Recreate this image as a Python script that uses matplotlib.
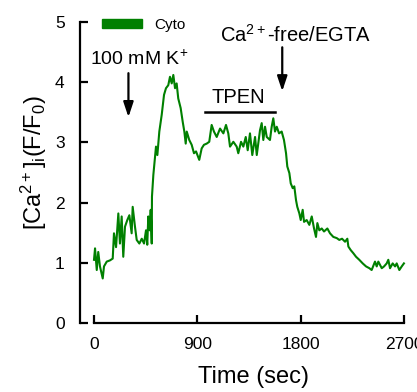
import matplotlib
matplotlib.use("Agg")
import matplotlib.pyplot as plt
from matplotlib.patches import Patch

plt.rcParams['font.family'] = ['Liberation Sans', 'DejaVu Sans']
plt.rcParams['mathtext.fontset'] = 'custom'
plt.rcParams['mathtext.rm'] = 'Liberation Sans'
plt.rcParams['mathtext.it'] = 'Liberation Sans:italic'

# cytosolic trace
time_s = [0, 9, 24, 37, 52, 76, 87, 111, 139, 163, 174, 192, 212, 226, 241, 255,
          270, 290, 308, 328, 337, 357, 372, 395, 416, 436, 453, 464, 473, 485,
          494, 503, 505, 517, 531, 540, 552, 569, 590, 610, 627, 647, 662, 677,
          691, 706, 720, 734, 755, 773, 787, 799, 808, 830, 851, 871, 889, 917,
          938, 958, 982, 1004, 1025, 1045, 1069, 1098, 1127, 1150, 1170, 1185,
          1214, 1243, 1257, 1281, 1301, 1322, 1339, 1359, 1379, 1403, 1418, 1446,
          1461, 1475, 1490, 1505, 1533, 1548, 1562, 1577, 1592, 1612, 1635, 1655,
          1673, 1684, 1702, 1714, 1731, 1745, 1760, 1771, 1789, 1801, 1818, 1830,
          1853, 1876, 1897, 1917, 1934, 1946, 1963, 1984, 2004, 2033, 2056, 2085,
          2115, 2137, 2161, 2187, 2207, 2216, 2237, 2259, 2283, 2311, 2341, 2370,
          2399, 2419, 2448, 2463, 2477, 2507, 2527, 2550, 2564, 2579, 2602, 2623,
          2637, 2660, 2681, 2700]
cyto = [1.05, 1.24, 0.88, 1.18, 0.94, 0.74, 0.94, 1.02, 1.04, 1.07, 1.49, 1.26,
        1.82, 1.32, 1.77, 1.10, 1.60, 1.71, 1.79, 1.49, 1.93, 1.60, 1.38, 1.32,
        1.40, 1.32, 1.54, 1.30, 1.77, 1.54, 1.88, 1.32, 2.10, 2.46, 2.74, 2.93,
        2.79, 3.18, 3.46, 3.79, 3.90, 3.95, 4.09, 3.98, 4.12, 3.90, 3.98, 3.73,
        3.57, 3.34, 3.18, 2.98, 3.18, 3.04, 2.96, 2.82, 2.85, 2.71, 2.90, 2.96,
        2.98, 3.01, 3.29, 3.18, 3.09, 3.23, 3.15, 3.29, 3.15, 2.93, 3.01, 2.93,
        2.82, 3.01, 2.93, 3.09, 2.87, 3.15, 2.79, 3.09, 2.79, 3.20, 3.32, 3.04,
        3.26, 3.09, 3.04, 3.26, 3.40, 3.18, 3.26, 3.15, 3.18, 3.04, 2.82, 2.60,
        2.49, 2.32, 2.24, 2.27, 2.04, 1.93, 1.82, 1.71, 1.88, 1.68, 1.71, 1.63,
        1.77, 1.57, 1.43, 1.66, 1.54, 1.57, 1.52, 1.57, 1.49, 1.43, 1.41, 1.38,
        1.40, 1.35, 1.40, 1.27, 1.21, 1.16, 1.10, 1.05, 0.99, 0.94, 0.91, 0.88,
        1.02, 0.94, 1.02, 0.91, 0.94, 0.99, 1.05, 0.91, 0.99, 0.94, 0.99, 0.88,
        0.94, 0.99]

xticks = [0, 900, 1800, 2700]
yticks = [0, 1, 2, 3, 4, 5]
kcl_time, egta_time = 300, 1640
tpen_start, tpen_end = 967, 1577

green = '#008000'
W, H = 417, 392
fig = plt.figure(figsize=(W / 100, H / 100), dpi=100)
ax = fig.add_axes([80 / W, (H - 323) / H, 330 / W, 301 / H])

ax.plot(time_s, cyto, color=green, lw=1.5)

ax.set_xlim(-122, 2753)
ax.set_ylim(0, 5)
ax.set_xticks(xticks)
ax.set_yticks(yticks)
for s in ['top', 'right']:
    ax.spines[s].set_visible(False)
ax.spines['bottom'].set_bounds(0, 2700)
ax.spines['left'].set_bounds(0, 5)
for s in ['bottom', 'left']:
    ax.spines[s].set_linewidth(1.6)
ax.tick_params(direction='in', length=5.5, width=1.6, labelsize=12.5)
ax.tick_params(axis='x', pad=10)
ax.tick_params(axis='y', pad=11)

# stimulus markers
arrow = dict(arrowstyle='-|>,head_width=0.3,head_length=0.9', color='black', lw=1.6,
             shrinkA=0, shrinkB=0)
ax.annotate('', xy=(kcl_time, 3.42), xytext=(kcl_time, 4.15), arrowprops=arrow)
ax.annotate('', xy=(egta_time, 3.85), xytext=(egta_time, 4.58), arrowprops=arrow)
ax.text(-35, 4.29, '100 mM K$^{+}$', fontsize=14, va='baseline')
ax.text(1098, 4.67, 'Ca$^{2+}$-free/EGTA', fontsize=14.5, va='baseline')
ax.text(1025, 3.65, 'TPEN', fontsize=14.5, va='baseline')
ax.plot([tpen_start, tpen_end], [3.51, 3.51], color='black', lw=1.8)

ax.legend(handles=[Patch(color=green, label='Cyto')], loc='upper left',
          bbox_to_anchor=(102 / W, (H - 18) / H), bbox_transform=fig.transFigure,
          frameon=False, fontsize=11, handlelength=2.6, handleheight=0.5,
          handletextpad=0.8, borderpad=0, borderaxespad=0)

ylab = '[Ca$^{2+}$]$_{\\mathrm{i}}$(F/F$_0$)'
fig.text(34 / W, (H - 163) / H, ylab, rotation=90, fontsize=17, ha='center', va='center')
fig.text(-11 / W, (H - 163) / H, ylab, rotation=90, fontsize=17, ha='center',
         va='center', color=green)
fig.text(253 / W, (H - 383) / H, 'Time (sec)', fontsize=17, ha='center', va='baseline')

fig.savefig('out.png', dpi=100)
